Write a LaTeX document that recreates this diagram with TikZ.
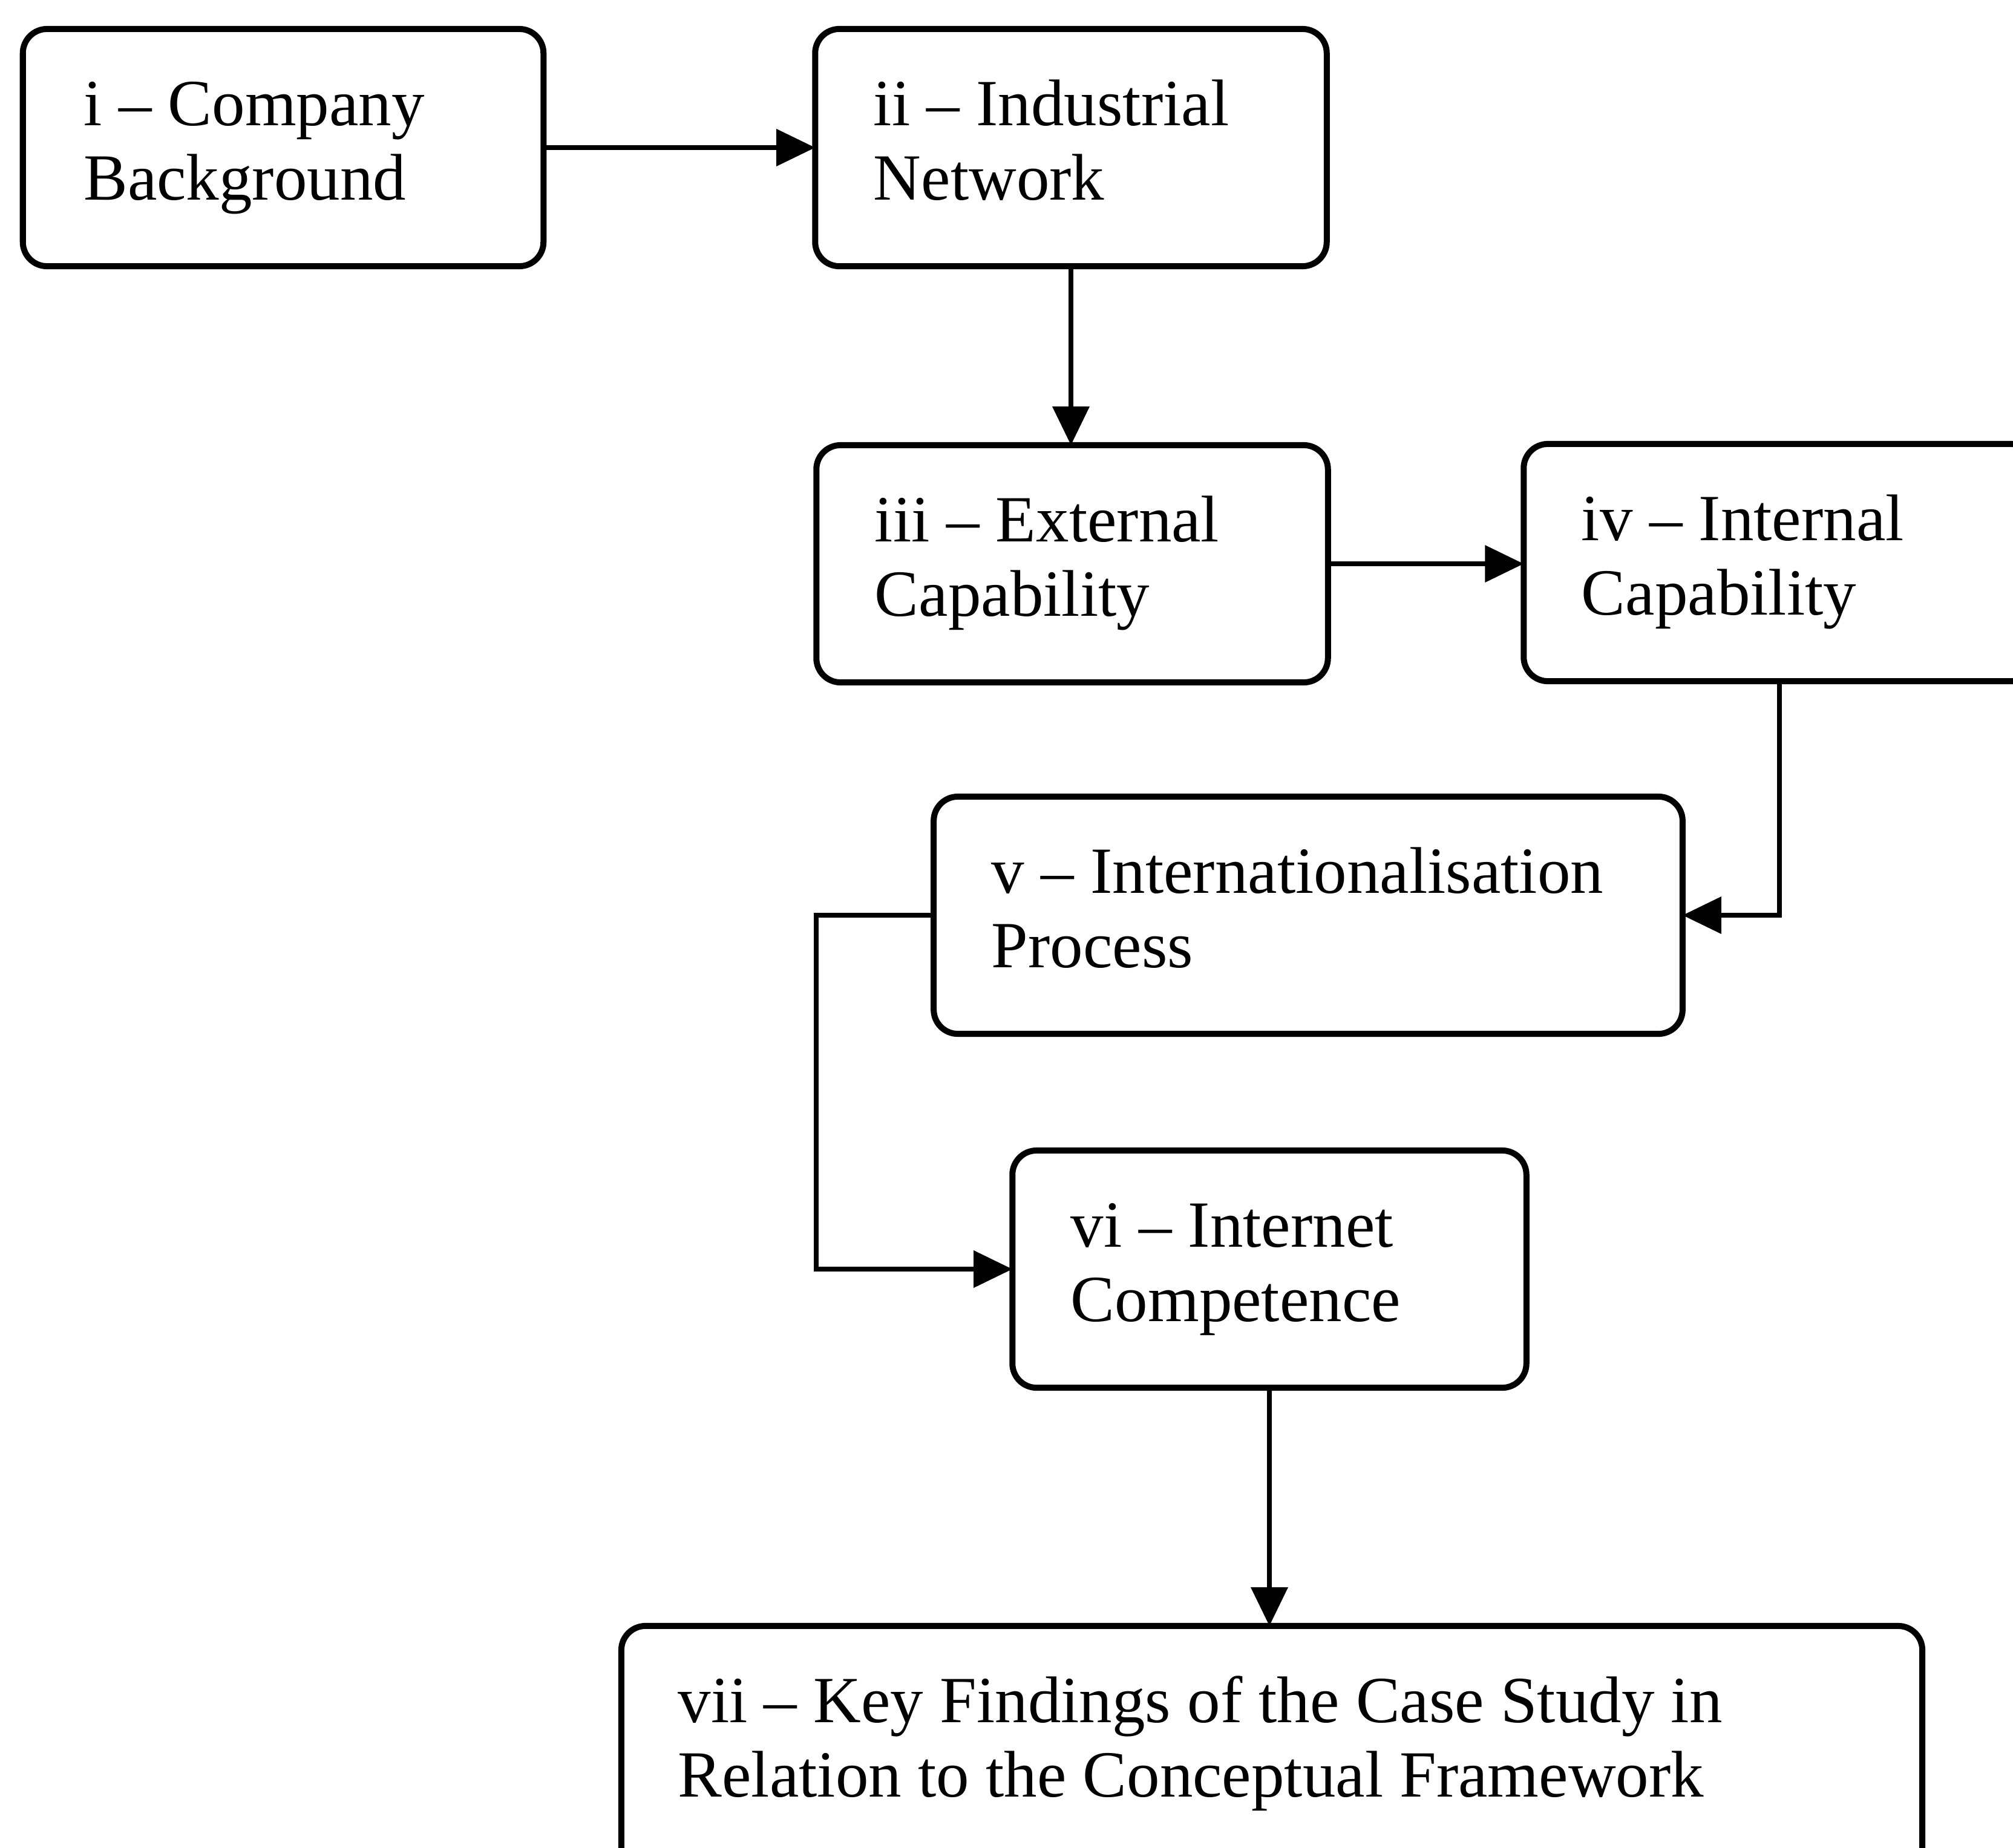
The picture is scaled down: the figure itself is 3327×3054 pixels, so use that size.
\documentclass[tikz,border=0pt]{standalone}
\usepackage{fontspec}
\setmainfont{Liberation Serif}
\usetikzlibrary{calc,arrows.meta}
\begin{document}
\begin{tikzpicture}[x=0.01cm,y=-0.01cm,
  stage/.style={draw=black,line width=0.1cm,rounded corners=0.4cm,
    minimum height=3.92cm,inner sep=0pt,outer sep=0pt},
  lbl/.style={anchor=base west,inner sep=0pt,font=\fontsize{31}{35}\selectfont},
  flow/.style={line width=0.075cm,-{Triangle[length=0.64cm,width=0.6cm]}}]
\useasboundingbox (0,0) rectangle (3327,3054);
\fill[white] (0,0) rectangle (3327,3054);
\clip (0,0) rectangle (3327,3054);

% stage boxes
\node[stage,minimum width=8.60cm] (b1) at (468,244) {};
\node[stage,minimum width=8.45cm] (b2) at (1770,244) {};
\node[stage,minimum width=8.45cm] (b3) at (1772,932) {};
\node[stage,minimum width=8.45cm] (b4) at (2941,930) {};
\node[stage,minimum width=12.37cm] (b5) at (2162,1513) {};
\node[stage,minimum width=8.49cm] (b6) at (2098,2098) {};
\node[stage,minimum width=21.49cm,minimum height=4.4cm] (b7) at (2102,2908) {};

% stage titles
\node[lbl] (t1) at ($(b1.north west)+(100,160)$) {\begin{tabular}[t]{@{}l@{}}i – Company\\Background\end{tabular}};
\node[lbl] (t2) at ($(b2.north west)+(96,160)$) {\begin{tabular}[t]{@{}l@{}}ii – Industrial\\Network\end{tabular}};
\node[lbl] (t3) at ($(b3.north west)+(96,160)$) {\begin{tabular}[t]{@{}l@{}}iii – External\\Capability\end{tabular}};
\node[lbl] (t4) at ($(b4.north west)+(95,160)$) {\begin{tabular}[t]{@{}l@{}}iv – Internal\\Capability\end{tabular}};
\node[lbl] (t5) at ($(b5.north west)+(95,160)$) {\begin{tabular}[t]{@{}l@{}}v – Internationalisation\\Process\end{tabular}};
\node[lbl] (t6) at ($(b6.north west)+(96,160)$) {\begin{tabular}[t]{@{}l@{}}vi – Internet\\Competence\end{tabular}};
\node[lbl] (t7) at ($(b7.north west)+(93,160)$) {\begin{tabular}[t]{@{}l@{}}vii – Key Findings of the Case Study in\\Relation to the Conceptual Framework\end{tabular}};

% connectors
\coordinate (bend) at (1349,0);
\draw[flow] (b1.east) -- (b2.west);
\draw[flow] (b2.south) -- (b2.south |- b3.north);
\draw[flow] (b3.east) -- (b3.east -| b4.west);
\draw[flow] (b4.south) |- (b5.east);
\draw[flow] (b5.west) -- (b5.west -| bend) |- (b6.west);
\draw[flow] (b6.south) -- (b6.south |- b7.north);
\end{tikzpicture}
\end{document}
